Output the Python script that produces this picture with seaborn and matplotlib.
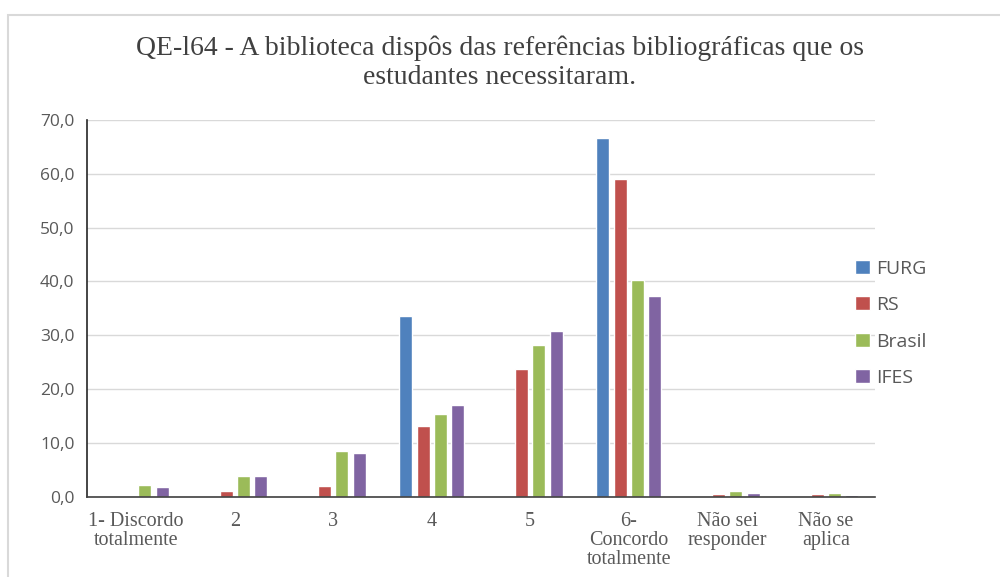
import pandas as pd
import matplotlib.pyplot as plt
import seaborn as sns
from matplotlib.patches import Rectangle

categorias = ["1- Discordo\ntotalmente", "2", "3", "4", "5",
              "6-\nConcordo\ntotalmente", "Não sei\nresponder", "Não se\naplica"]
furg = [0.0, 0.0, 0.0, 33.5, 0.0, 66.7, 0.0, 0.0]
rs = [0.0, 1.0, 2.0, 13.2, 23.8, 59.0, 0.5, 0.5]
brasil = [2.2, 3.9, 8.4, 15.4, 28.2, 40.2, 1.1, 0.7]
ifes = [1.8, 3.9, 8.2, 17.0, 30.8, 37.2, 0.7, 0.3]

series = {"FURG": furg, "RS": rs, "Brasil": brasil, "IFES": ifes}
cores = {"FURG": "#4F81BD", "RS": "#C0504D", "Brasil": "#9BBB59", "IFES": "#8064A2"}

linhas = []
for nome, valores in series.items():
    for cat, v in zip(categorias, valores):
        linhas.append({"categoria": cat, "grupo": nome, "valor": v})
df = pd.DataFrame(linhas)

sns.set_style("white")
fig = plt.figure(figsize=(10, 5.77), dpi=100)
ax = fig.add_axes([0.087, 0.1392, 0.788, 0.653])

sns.barplot(data=df, x="categoria", y="valor", hue="grupo", palette=cores,
            width=0.7, gap=0.25, ax=ax, saturation=1, legend=True)

ax.set_ylim(0, 70)
ax.set_yticks(range(0, 71, 10))
ax.set_yticklabels([f"{v},0" for v in range(0, 71, 10)],
                   fontfamily="Open Sans", fontsize=12.5, color="#595959")
ax.set_xticks(range(len(categorias)))
ax.set_xticklabels(categorias, fontfamily="Liberation Serif", fontsize=14.5,
                   color="#595959", linespacing=1.0)
ax.set_xlim(-0.5, len(categorias) - 0.5)
ax.set_xlabel("")
ax.set_ylabel("")
ax.yaxis.grid(True, color="#D9D9D9", linewidth=1)
ax.set_axisbelow(True)
ax.tick_params(axis="y", length=0, pad=9)
ax.tick_params(axis="x", length=0, pad=11)
for lado in ["top", "right"]:
    ax.spines[lado].set_visible(False)
ax.spines["left"].set_color("#262626")
ax.spines["bottom"].set_color("#404040")
ax.spines["left"].set_linewidth(1.2)
ax.spines["bottom"].set_linewidth(1.2)

leg = ax.legend(loc="center left", bbox_to_anchor=(0.953, 0.46), frameon=False,
                prop={"family": "Open Sans", "size": 14}, handlelength=0.75,
                handleheight=0.75, handletextpad=0.3, labelspacing=0.95)
for t in leg.get_texts():
    t.set_color("#595959")

fig.text(0.5, 0.917, "QE-l64 - A biblioteca dispôs das referências bibliográficas que os",
         ha="center", va="center", fontfamily="Liberation Serif", fontsize=20, color="#404040")
fig.text(0.5, 0.865, "estudantes necessitaram.",
         ha="center", va="center", fontfamily="Liberation Serif", fontsize=20, color="#404040")

fig.patches.append(Rectangle((0.008, -0.05), 1.1, 1.0236, transform=fig.transFigure,
                             fill=False, edgecolor="#D9D9D9", linewidth=1.5))

fig.savefig("out.png", dpi=100)
